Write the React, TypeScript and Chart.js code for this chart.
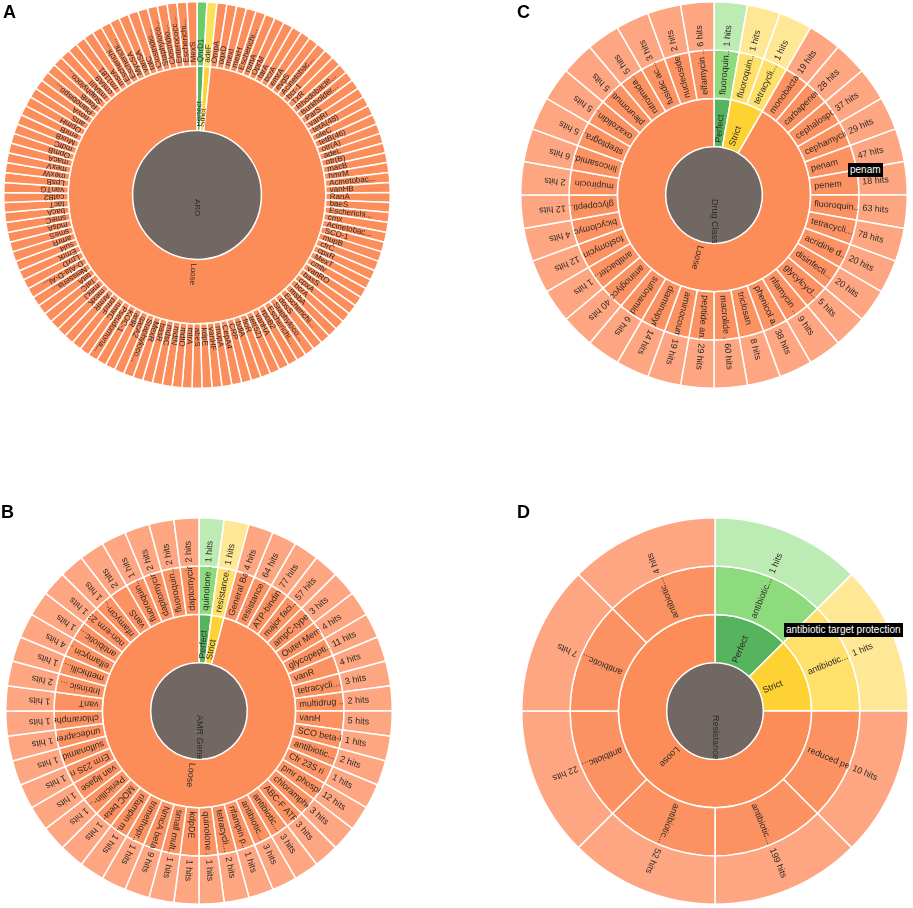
import React, { useEffect, useRef } from "react";
import { Chart, ArcElement, DoughnutController } from "chart.js";

Chart.register(ArcElement, DoughnutController);

// ---------------- DATA ----------------
const levelNames = ["Perfect", "Strict", "Loose"];

// Panel A – ARO terms
const aroRoot = "ARO";
const aroPerfect = ["QnrD1"];
const aroStrict = ["adeF"];
const aroLoose = [
  "OmpA", "oqxD", "mexI", "mexH", "Escherichi...", "rsmA", "OprM", "farA", "bcrA", "emrA",
  "evgS", "Acinetobac...", "bcr-1", "TxR", "Rhodobacte...", "Burkholder...", "ParS", "vanRI", "tetA(48)", "oleC",
  "tetB(46)", "otr(A)", "adeL", "otr(B)", "macB", "hmrM", "Acinetobac...", "vanHB", "RanA", "baeS",
  "Escherichi...", "cmx", "Acinetobac...", "SCO-1", "mupB", "cfrC", "cpxR", "MexT", "cmlv", "vanRO",
  "basS", "cpxA", "bcrA", "msbA", "Escherichi...", "dosS", "Staphyloco...", "Escherichi...", "rpoB2", "vanHA",
  "tet(52)", "floR", "bdlA", "CRP", "CepA4", "mupA", "vanHF", "kdpE", "abeS", "mtrA",
  "mdtO", "mdtN", "mdsC", "basR", "MexR", "Staphyloco...", "qacA2", "arlR", "KOC-1", "Pseudomona...",
  "nmrC", "pmrF", "ArmR", "mexK", "mexJ", "TaIC", "tetA", "Neisseria...", "D-Ala-D-Al...", "LpxD",
  "EmrK", "sul4", "amrR", "smeS", "mdsA", "smeC", "bacA", "tacT", "catB2", "vanTG",
  "LpsB", "mexW", "mexV", "macA", "OpmB", "mdtC", "MuxB", "emrB", "OpmH", "arlS",
  "novA", "Planobispo...", "RanB", "Staphyloco...", "rmlAIII", "cmlA9", "rm1181", "msrA", "Escherichi...", "Escherichi...",
  "MycSA", "vanSA", "tolC", "Clostridio...", "Staphyloco...", "Clostridio...", "Enterococc...", "Escherichi...", "MexS",
];

// Panel B – AMR gene family
const geneRoot = "AMR Gene";
const genePerfect = ["quinolone ..."];
const genePerfectHits = [1];
const geneStrict = ["resistance..."];
const geneStrictHits = [1];
const geneLoose = [
  "General Ba", "resistance...", "ATP-bindin", "major faci...", "ampC-type", "Outer Mem", "glycopepti...", "vanR",
  "tetracycli...", "multidrug ...", "vanH", "SCO beta-l", "antibiotic...", "Cfr 23S ri", "pmr phosph", "chloramphe",
  "ABC-F ATP", "antibiotic...", "antibiotic...", "rifampin p...", "tetracycli...", "quinolone ...", "kdpDE", "small mult...",
  "NmcA beta-", "trimethopr...", "rifampin m...", "MOC beta-l", "Penicillin-...", "van ligase", "Erm 23S ri", "sulfonamid...",
  "undecapren", "chloramphe", "vanT", "Intrinsic ...", "methicilli...", "elfamycin ...", "antibiotic...", "non-erm 23",
  "rifamycin-...", "vanS", "fluoroquin...", "daptomycin", "fluoroquin...", "daptomycin",
];
const geneLooseHits = [
  4, 64, 77, 57, 3, 4, 11, 4,
  3, 2, 5, 1, 2, 1, 12, 3,
  3, 3, 3, 1, 2, 1, 1, 1,
  9, 1, 1, 1, 1, 1, 1, 1,
  1, 1, 1, 2, 1, 4, 1, 1,
  1, 2, 1, 2, 2, 2,
];

// Panel C – drug class
const drugRoot = "Drug Class";
const drugPerfect = ["fluoroquin..."];
const drugPerfectHits = [1];
const drugStrict = ["fluoroquin...", "tetracycli..."];
const drugStrictHits = [1, 1];
const drugLoose = [
  "monobactam", "carbapenem", "cephalospo...", "cephamycin", "penam", "penem", "fluoroquin...", "tetracycli...",
  "acridine d...", "disinfecti...", "glycylcycl...", "rifamycin ...", "phenicol a...", "triclosan", "macrolide ...", "peptide an...",
  "aminocoum...", "diaminopyr...", "sulfonamid...", "aminoglyco...", "antibacter...", "fosfomycin", "bicyclomyc...", "glycopepti...",
  "mupirocin", "lincosamid...", "streptogra...", "oxazolidin...", "pleuromuti...", "nitroimida...", "fusidic ac...", "nucleoside",
  "elfamycin ...",
];
const drugLooseHits = [
  19, 28, 37, 29, 47, 18, 63, 78,
  20, 20, 5, 9, 38, 8, 60, 29,
  19, 14, 6, 40, 1, 12, 4, 12,
  2, 6, 5, 5, 5, 5, 3, 2,
  6,
];

// Panel D – resistance mechanism
const mechRoot = "Resistance";
const mechPerfect = ["antibiotic..."];
const mechPerfectHits = [1];
const mechStrict = ["antibiotic..."];
const mechStrictHits = [1];
const mechLoose = ["reduced pe", "antibiotic...", "antibiotic...", "antibiotic...", "antibiotic...", "antibiotic..."];
const mechLooseHits = [10, 199, 52, 22, 7, 4];

// hover labels visible in the figure
const hoverC = "penam";
const hoverD = "antibiotic target protection";

// ---------------- STYLE ----------------
const rootColor = "#716864";
const catColors = ["#55b45d", "#fdd232", "#fc8d59"];
const midColors = ["#8ddb7c", "#fee06a", "#fc9262"];
const outerColors = ["#bdebb4", "#fee895", "#fda681"];
const FONT = "Arial, 'Liberation Sans', Helvetica, sans-serif";

type Group = { leaves: string[]; hits?: number[] };

function buildDatasets(root: string, groups: Group[], withHits: boolean, secondColors: string[]) {
  const leaves = groups.flatMap((g) => g.leaves);
  const leafGroup = groups.flatMap((g, gi) => g.leaves.map(() => gi));
  const ds: any[] = [];
  const base = { borderColor: "#ffffff", borderWidth: 1.5 };
  if (withHits) {
    const hits = groups.flatMap((g) => g.hits || []);
    ds.push({
      ...base,
      data: leaves.map(() => 1),
      texts: hits.map((h) => `${h} hits`),
      backgroundColor: leafGroup.map((gi) => outerColors[gi]),
    });
  }
  ds.push({
    ...base,
    data: leaves.map(() => 1),
    texts: leaves,
    backgroundColor: leafGroup.map((gi) => secondColors[gi]),
  });
  ds.push({
    ...base,
    data: groups.map((g) => g.leaves.length),
    texts: levelNames,
    backgroundColor: catColors,
  });
  ds.push({ borderWidth: 0, data: [1], texts: [root], backgroundColor: [rootColor] });
  return ds;
}

const sunLabels = {
  id: "sunLabels",
  afterDatasetsDraw(chart: any, _args: any, opts: any) {
    const ctx = chart.ctx as CanvasRenderingContext2D;
    chart.data.datasets.forEach((ds: any, di: number) => {
      const meta = chart.getDatasetMeta(di);
      meta.data.forEach((arc: any, i: number) => {
        const text = ds.texts?.[i];
        if (!text) return;
        const p = arc.getProps(["x", "y", "startAngle", "endAngle", "innerRadius", "outerRadius"], true);
        ctx.save();
        ctx.beginPath();
        ctx.arc(p.x, p.y, p.outerRadius, p.startAngle, p.endAngle);
        ctx.arc(p.x, p.y, p.innerRadius, p.endAngle, p.startAngle, true);
        ctx.closePath();
        ctx.clip();
        const mid = (p.startAngle + p.endAngle) / 2;
        ctx.translate(p.x, p.y);
        ctx.rotate(mid);
        ctx.font = `${opts.size}px ${FONT}`;
        ctx.fillStyle = opts.color || "#2e2a28";
        ctx.textAlign = "left";
        ctx.textBaseline = "middle";
        ctx.fillText(text, p.innerRadius + (opts.pad ?? 4), 0);
        ctx.restore();
      });
    });
  },
};

type PanelProps = {
  cx: number;
  cy: number;
  r: number;
  root: string;
  groups: Group[];
  withHits: boolean;
  secondColors: string[];
  fontSize: number;
};

function Sunburst({ cx, cy, r, root, groups, withHits, secondColors, fontSize }: PanelProps) {
  const ref = useRef<HTMLCanvasElement | null>(null);
  const size = 2 * r + 2;
  useEffect(() => {
    if (!ref.current) return;
    const chart = new Chart(ref.current, {
      type: "doughnut",
      data: { datasets: buildDatasets(root, groups, withHits, secondColors) as any },
      options: {
        animation: false,
        responsive: false,
        maintainAspectRatio: false,
        cutout: 0,
        events: [],
        layout: { padding: 0 },
        plugins: {
          legend: { display: false },
          tooltip: { enabled: false },
          sunLabels: { size: fontSize, pad: 4 },
        } as any,
      },
      plugins: [sunLabels as any],
    });
    return () => chart.destroy();
  }, []);
  return (
    <canvas
      ref={ref}
      width={size}
      height={size}
      style={{ position: "absolute", left: cx - r - 1, top: cy - r - 1, width: size, height: size }}
    />
  );
}

const letterStyle: React.CSSProperties = {
  position: "absolute",
  fontFamily: FONT,
  fontWeight: "bold",
  fontSize: 18,
  lineHeight: "18px",
  color: "#000",
};

const hoverStyle: React.CSSProperties = {
  position: "absolute",
  background: "#000",
  color: "#fff",
  fontFamily: FONT,
  fontSize: 10,
  lineHeight: "14px",
  padding: "0 2px",
  whiteSpace: "nowrap",
};

export default function App() {
  return (
    <div style={{ position: "fixed", left: 0, top: 0, width: 913, height: 908, background: "#fff", overflow: "hidden" }}>
      <Sunburst
        cx={197}
        cy={195}
        r={193}
        root={aroRoot}
        groups={[{ leaves: aroPerfect }, { leaves: aroStrict }, { leaves: aroLoose }]}
        withHits={false}
        secondColors={["#6ccc6c", "#fde05a", "#fc8e5b"]}
        fontSize={8}
      />
      <Sunburst
        cx={199}
        cy={711}
        r={193}
        root={geneRoot}
        groups={[
          { leaves: genePerfect, hits: genePerfectHits },
          { leaves: geneStrict, hits: geneStrictHits },
          { leaves: geneLoose, hits: geneLooseHits },
        ]}
        withHits={true}
        secondColors={midColors}
        fontSize={9}
      />
      <Sunburst
        cx={714}
        cy={195}
        r={193}
        root={drugRoot}
        groups={[
          { leaves: drugPerfect, hits: drugPerfectHits },
          { leaves: drugStrict, hits: drugStrictHits },
          { leaves: drugLoose, hits: drugLooseHits },
        ]}
        withHits={true}
        secondColors={midColors}
        fontSize={9}
      />
      <Sunburst
        cx={715}
        cy={711}
        r={193}
        root={mechRoot}
        groups={[
          { leaves: mechPerfect, hits: mechPerfectHits },
          { leaves: mechStrict, hits: mechStrictHits },
          { leaves: mechLoose, hits: mechLooseHits },
        ]}
        withHits={true}
        secondColors={midColors}
        fontSize={9}
      />
      <div style={{ ...letterStyle, left: 3, top: 3 }}>A</div>
      <div style={{ ...letterStyle, left: 1, top: 503 }}>B</div>
      <div style={{ ...letterStyle, left: 517, top: 3 }}>C</div>
      <div style={{ ...letterStyle, left: 517, top: 503 }}>D</div>
      <div style={{ ...hoverStyle, left: 848, top: 163 }}>{hoverC}</div>
      <div style={{ ...hoverStyle, left: 784, top: 623 }}>{hoverD}</div>
    </div>
  );
}
